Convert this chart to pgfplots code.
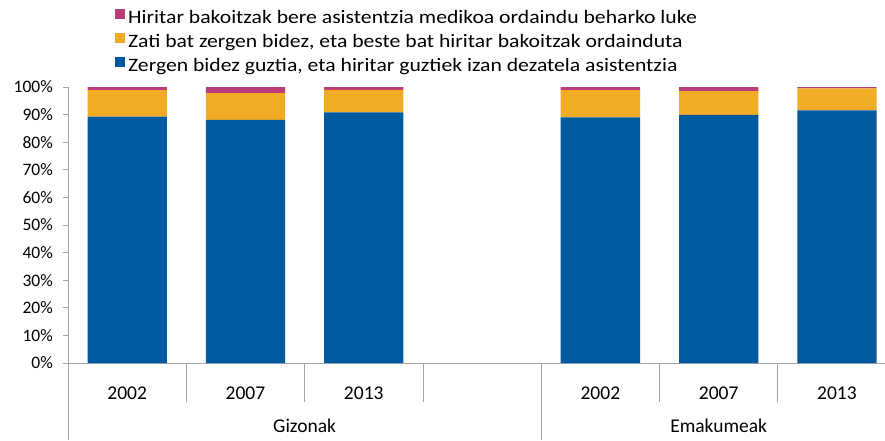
\documentclass[border=0pt]{standalone}
\usepackage{fontspec}
\setmainfont{Carlito}
\newfontfamily\legfont{Carlito}[FakeStretch=1.14]
\usepackage{pgfplots}
\pgfplotsset{compat=1.18}
\definecolor{cblue}{RGB}{0,90,160}
\definecolor{corange}{RGB}{242,171,39}
\definecolor{cmag}{RGB}{186,60,122}
\definecolor{cgray}{RGB}{165,165,165}
\begin{document}
\begin{tikzpicture}
\useasboundingbox (-68pt,-77pt) rectangle (817pt,363pt);
\begin{axis}[
  at={(0pt,0pt)}, anchor=south west,
  scale only axis, width=817pt, height=276pt,
  xmin=-0.5, xmax=6.406, ymin=0, ymax=100,
  ybar stacked, bar width=0.67,
  clip=false,
  axis x line*=bottom, axis y line*=left,
  axis line style={cgray, line width=0.8pt},
  xtick={0,1,2,4,5,6},
  xticklabels={2002,2007,2013,2002,2007,2013},
  x tick style={draw=none},
  xticklabel style={anchor=base, yshift=-31pt, font=\fontsize{19.5}{22}\selectfont},
  ytick={0,10,...,100},
  yticklabel={\pgfmathprintnumber{\tick}\%},
  yticklabel style={anchor=east, inner sep=0pt, xshift=-10pt, font=\fontsize{17.5}{20}\selectfont},
  /pgf/number format/assume math mode=true,
  y tick style={cgray, line width=0.8pt},
  tick align=outside, major tick length=5pt,
  reverse legend,
  legend cell align=left,
  legend style={at={(axis description cs:0.0575,1.282)}, anchor=north west,
    draw=none, fill=none, inner sep=0pt, row sep=5.5pt, column sep=3pt,
    font=\legfont\fontsize{19}{23}\selectfont,
    nodes={inner sep=0pt, text height=14pt, text depth=4pt}},
  legend image code/.code={\fill[#1] (0pt,-0.5pt) rectangle (10pt,9.5pt);},
]
\addplot[fill=cblue, draw=none] coordinates {(0,89.3) (1,88.1) (2,90.8) (4,89.0) (5,89.9) (6,91.5)};
\addplot[fill=corange, draw=none] coordinates {(0,9.6) (1,9.7) (2,8.2) (4,9.9) (5,8.6) (6,8.0)};
\addplot[fill=cmag, draw=none] coordinates {(0,1.1) (1,2.2) (2,1.0) (4,1.1) (5,1.5) (6,0.5)};
\legend{Zergen bidez guztia{,} eta hiritar guztiek izan dezatela asistentzia,
        Zati bat zergen bidez{,} eta beste bat hiritar bakoitzak ordainduta,
        Hiritar bakoitzak bere asistentzia medikoa ordaindu beharko luke}
\draw[cgray, line width=0.8pt] (axis cs:0.5,0) -- ++(0pt,-39pt);
\draw[cgray, line width=0.8pt] (axis cs:1.5,0) -- ++(0pt,-39pt);
\draw[cgray, line width=0.8pt] (axis cs:2.5,0) -- ++(0pt,-39pt);
\draw[cgray, line width=0.8pt] (axis cs:4.5,0) -- ++(0pt,-39pt);
\draw[cgray, line width=0.8pt] (axis cs:5.5,0) -- ++(0pt,-39pt);
\draw[cgray, line width=0.8pt] (axis cs:-0.5,0) -- ++(0pt,-77pt);
\draw[cgray, line width=0.8pt] (axis cs:3.5,0) -- ++(0pt,-77pt);
\node[anchor=base, font=\fontsize{19.5}{22}\selectfont] at ([yshift=-69pt]axis cs:1.5,0) {Gizonak};
\node[anchor=base, font=\fontsize{19.5}{22}\selectfont] at ([yshift=-69pt]axis cs:5,0) {Emakumeak};
\end{axis}
\end{tikzpicture}
\end{document}
